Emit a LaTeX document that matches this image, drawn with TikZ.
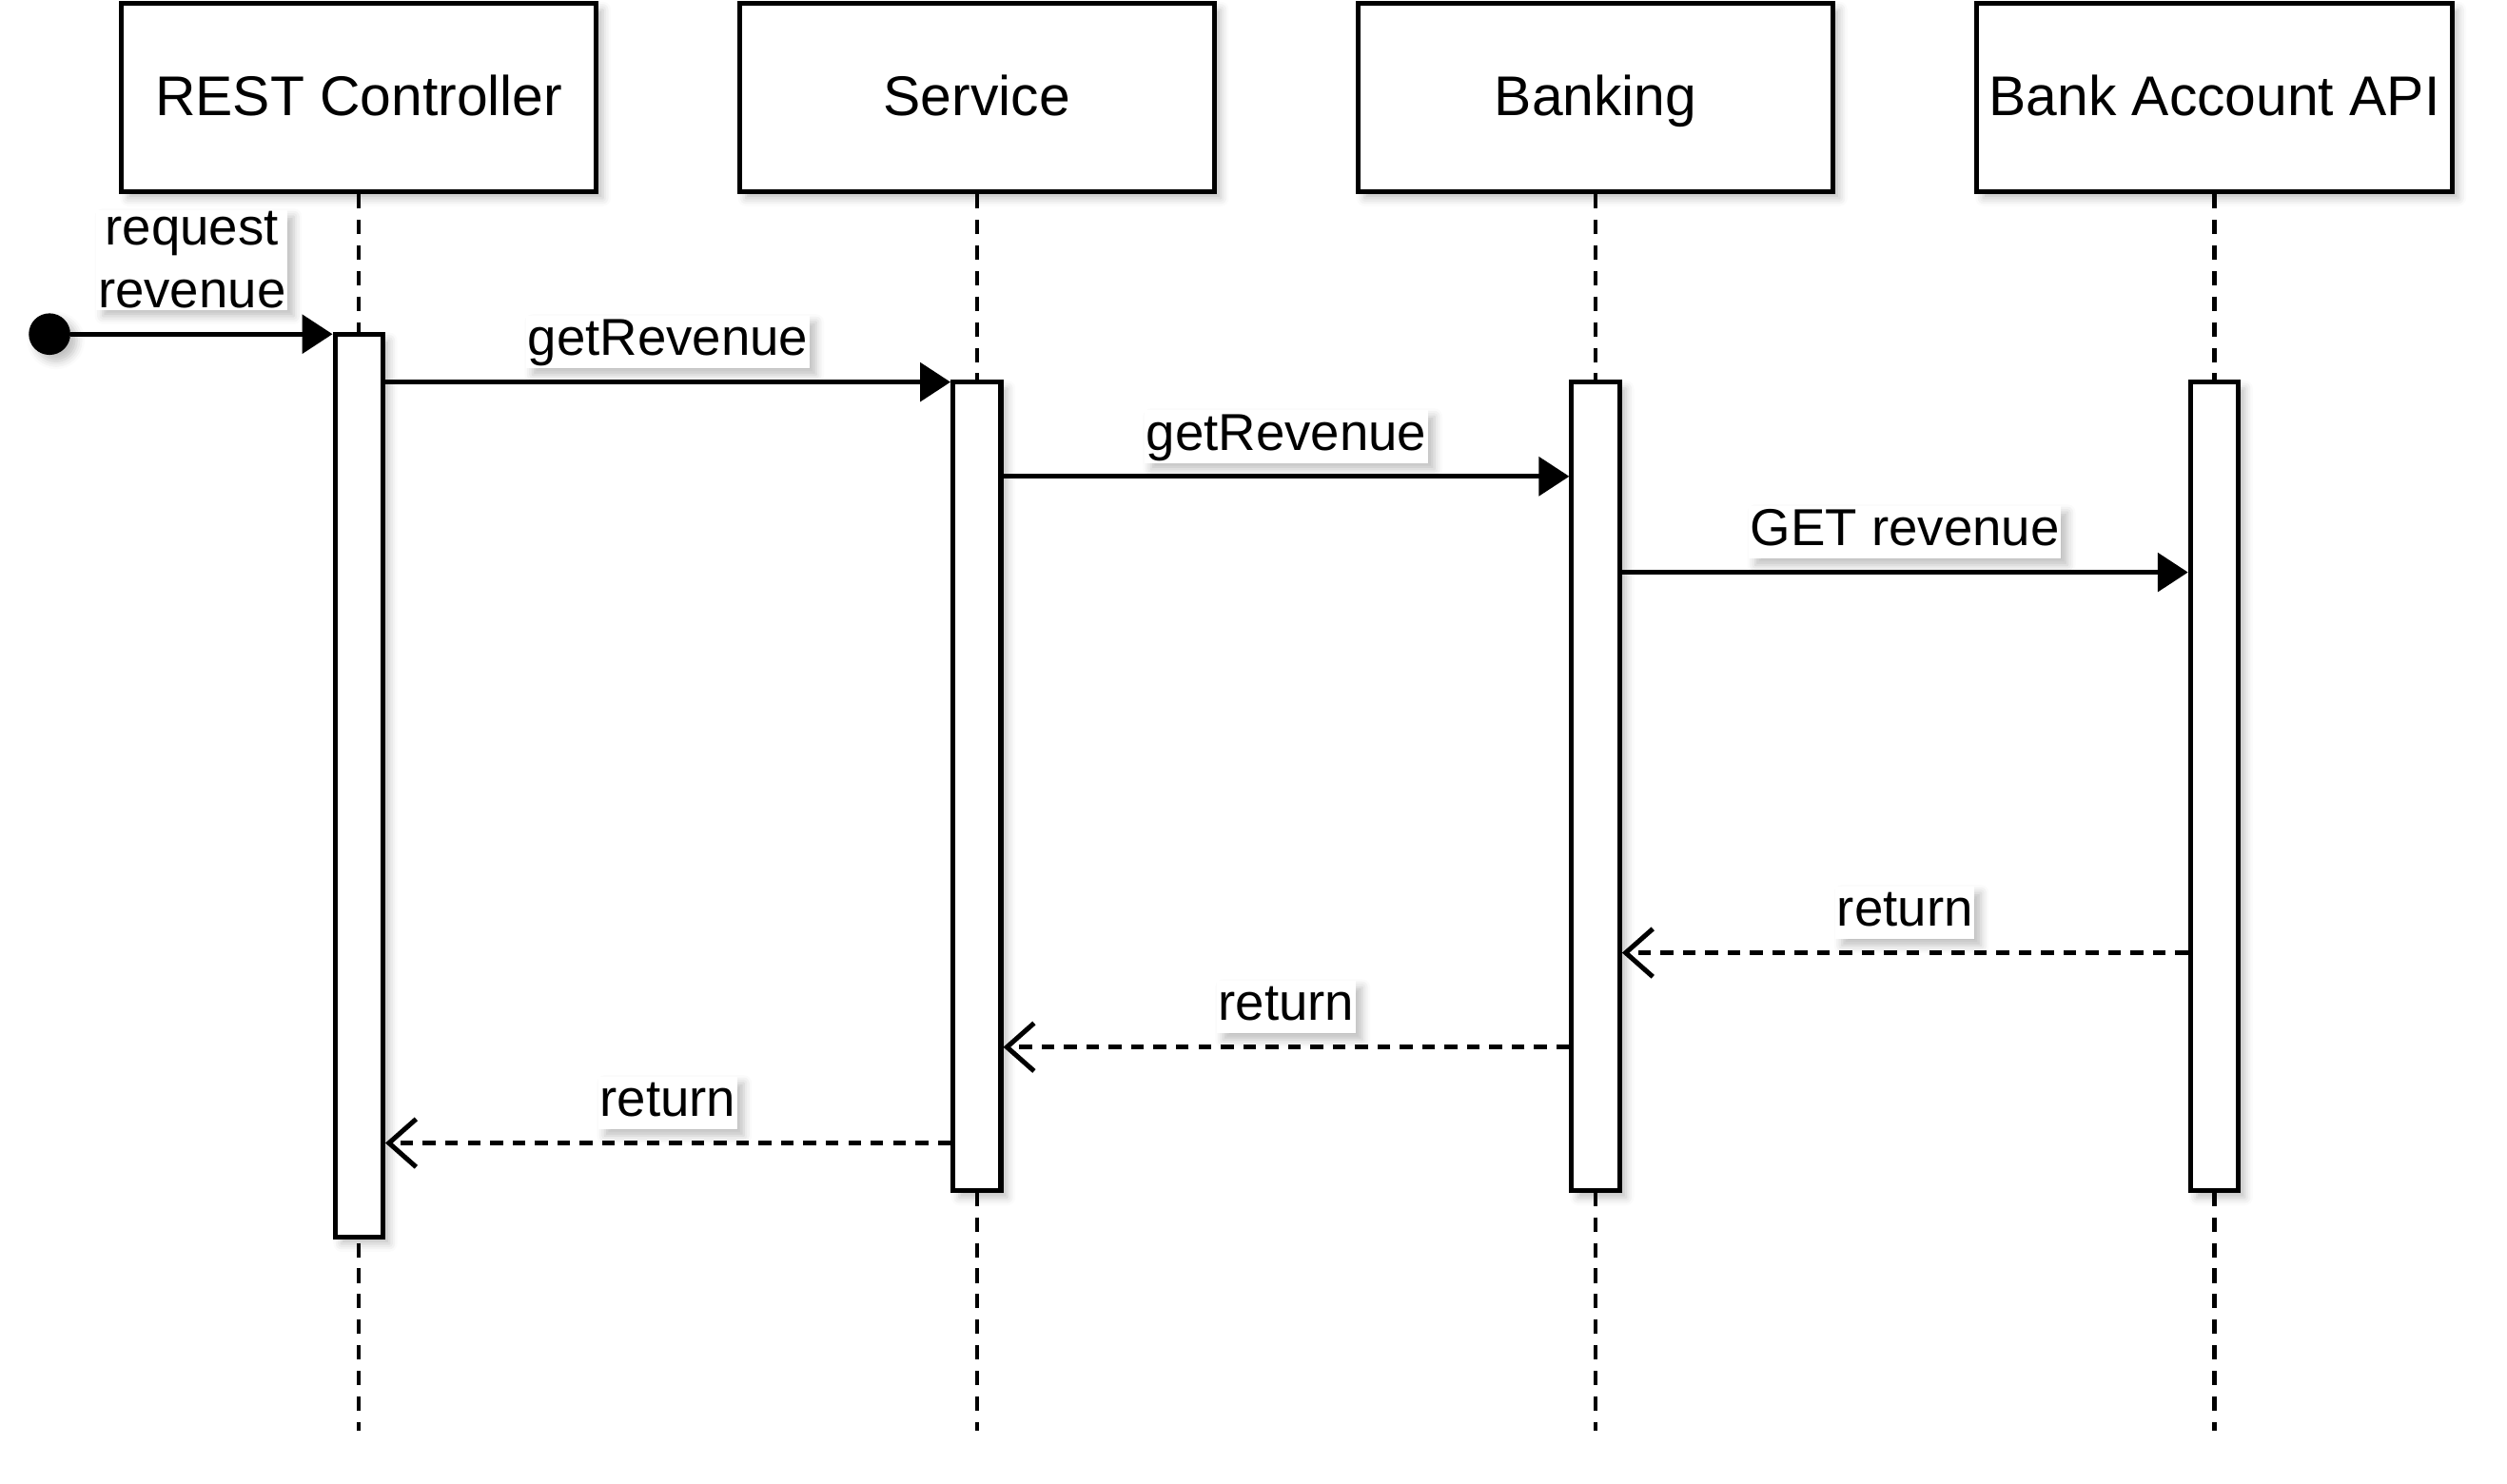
\documentclass[tikz,border=0pt]{standalone}
\usepackage{fontspec}
\setmainfont{Liberation Sans}
\usetikzlibrary{arrows.meta,shadows.blur}

\tikzset{
  shade/.style={blur shadow={shadow xshift=4pt,shadow yshift=-4pt,shadow blur radius=5pt,shadow opacity=25}},
  head/.style={draw,fill=white,line width=3pt,minimum width=297pt,minimum height=118pt,text height=28pt,text depth=5pt,font=\fontsize{35}{42}\selectfont,shade},
  bar/.style={draw,fill=white,line width=3pt,minimum width=30pt,shade},
  life/.style={line width=2.6pt,dash pattern=on 9pt off 7pt},
  call/.style={line width=3pt,-{Triangle[length=19pt,width=24pt]}},
  ret/.style={line width=3pt,dash pattern=on 8pt off 6pt,-{Straight Barb[length=17pt,width=30pt]}},
  lbl/.style={fill=white,inner sep=1pt,text height=24pt,text depth=7pt,font=\fontsize{32.5}{39}\selectfont,shade}
}

\begin{document}
\begin{tikzpicture}[x=1pt,y=-1pt]
\useasboundingbox (0,0) rectangle (1568,928);
% lifeline heads
\node[head] (ctrl) at (224.5,61) {REST Controller};
\node[head] (svc) at (611,61) {Service};
\node[head] (bank) at (998,61) {Banking};
\node[head] (api) at (1385,61) {Bank Account API};
\foreach \n in {ctrl,svc,bank,api}
  \draw[life] (\n.south) -- (\n.south |- 0,895);
% activations
\node[bar,minimum height=565pt] (ctrlbar) at (224.5,491.5) {};
\node[bar,minimum height=506pt] (svcbar) at (611,492) {};
\node[bar,minimum height=506pt] (bankbar) at (998,492) {};
\node[bar,minimum height=506pt] (apibar) at (1385,492) {};
% calls
\node[circle,fill=black,minimum size=26pt,inner sep=0pt,shade] (start) at (31,209) {};
\node[fill=white,inner sep=1pt,align=center,font=\fontsize{32.5}{39}\selectfont,shade,anchor=south east] (reqlbl) at (180,194) {request\\revenue};
\draw[call] (start) -- (ctrlbar.west |- start);
\draw[call] (ctrlbar.east |- 0,239) -- node[lbl,above=7pt] {getRevenue} (svcbar.west |- 0,239);
\draw[call] (svcbar.east |- 0,298) -- node[lbl,above=7pt] {getRevenue} (bankbar.west |- 0,298);
\draw[call] (bankbar.east |- 0,358) -- node[lbl,above=7pt] {GET revenue} (apibar.west |- 0,358);
% returns
\draw[ret] (apibar.west |- 0,596) -- node[lbl,above=7pt] {return} (bankbar.east |- 0,596);
\draw[ret] (bankbar.west |- 0,655) -- node[lbl,above=7pt] {return} (svcbar.east |- 0,655);
\draw[ret] (svcbar.west |- 0,715) -- node[lbl,above=7pt] {return} (ctrlbar.east |- 0,715);
\end{tikzpicture}
\end{document}
